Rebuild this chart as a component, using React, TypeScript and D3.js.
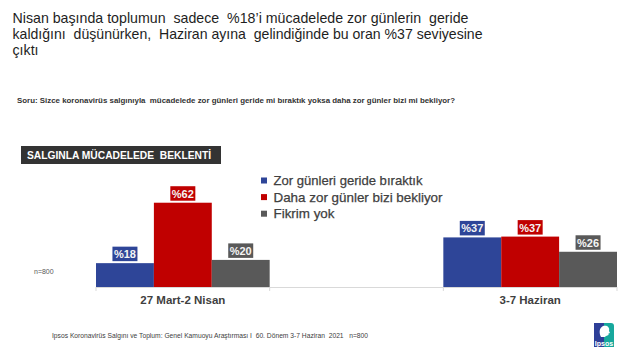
import React from "react";
import * as d3 from "d3";

const categories = ["27 Mart-2 Nisan", "", "3-7 Haziran"];
const seriesNames = ["Zor günleri geride bıraktık", "Daha zor günler bizi bekliyor", "Fikrim yok"];
const seriesColors = ["#2E4598", "#C00000", "#595959"];
const zorGeride = [17.6, null, 36.6];
const dahaZor = [62.2, null, 37.2];
const fikrimYok = [20.0, null, 26.0];
const seriesValues = [zorGeride, dahaZor, fikrimYok];

const titleLines = [
  "Nisan başında toplumun  sadece  %18’i mücadelede zor günlerin  geride",
  "kaldığını  düşünürken,  Haziran ayına  gelindiğinde bu oran %37 seviyesine",
  "çıktı",
];
const question = "Soru: Sizce koronavirüs salgınıyla  mücadelede zor günleri geride mi bıraktık yoksa daha zor günler bizi mi bekliyor?";
const boxTitle = "SALGINLA MÜCADELEDE  BEKLENTİ";
const footer = "Ipsos Koronavirüs Salgını ve Toplum: Genel Kamuoyu Araştırması I  60. Dönem 3-7 Haziran  2021   n=800";
const sampleNote = "n=800";

const FONT = "'Liberation Sans', Arial, sans-serif";

export default function App() {
  const W = 640, H = 360;
  const baseY = 287;
  const x = d3.scaleBand<string>().domain(categories.map((c, i) => String(i))).range([96, 617]).padding(0);
  const xs = d3.scaleBand<number>().domain([0, 1, 2]).range([0, x.bandwidth()]).padding(0);
  const y = d3.scaleLinear().domain([0, 100]).range([baseY, baseY - 135.5]);
  const tickXs = d3.range(categories.length + 1).map((i) => 96 + i * x.step());
  const legendWidths = [149, 169, 61];

  return (
    <svg width={W} height={H} viewBox={`0 0 ${W} ${H}`} style={{ position: "absolute", left: 0, top: 0, fontFamily: FONT }}>
      <rect width={W} height={H} fill="#fff" />
      {titleLines.map((t, i) => (
        <text key={i} x={12.5} y={22.5 + i * 16.4} fontSize={14.2} fill="#1e1e1e"
          textLength={i === 0 ? 456 : i === 1 ? 470 : undefined} lengthAdjust="spacingAndGlyphs" xmlSpace="preserve">{t}</text>
      ))}
      <text x={17} y={102.5} fontSize={7.4} fontWeight="bold" fill="#333" textLength={438} lengthAdjust="spacingAndGlyphs" xmlSpace="preserve">{question}</text>

      <rect x={21} y={146} width={200} height={18} fill="#333333" />
      <text x={27} y={159} fontSize={10.5} fontWeight="bold" fill="#fff" textLength={184} lengthAdjust="spacingAndGlyphs" xmlSpace="preserve">{boxTitle}</text>

      {seriesNames.map((s, i) => (
        <g key={s}>
          <rect x={261} y={177.5 + i * 16.6} width={6} height={6} fill={seriesColors[i]} />
          <text x={273.5} y={185 + i * 16.6} fontSize={13} fill="#404040" stroke="#404040" strokeWidth={0.25}
            textLength={legendWidths[i]} lengthAdjust="spacingAndGlyphs">{s}</text>
        </g>
      ))}

      <text x={34} y={274} fontSize={7} fill="#595959">{sampleNote}</text>

      {seriesValues.map((vals, si) =>
        vals.map((v, ci) => {
          if (v == null) return null;
          const bx = (x(String(ci)) as number) + (xs(si) as number);
          const bw = xs.bandwidth();
          const top = y(v);
          const cx = bx + bw / 2;
          const label = "%" + Math.round(v);
          return (
            <g key={`${si}-${ci}`}>
              <rect x={bx} y={top} width={bw} height={baseY - top} fill={seriesColors[si]} />
              <rect x={cx - 12.5} y={top - 16.5} width={25} height={14.5} fill={seriesColors[si]} />
              <text x={cx} y={top - 5} textAnchor="middle" fontSize={11} fontWeight="bold" fill="#f4f4f4">{label}</text>
            </g>
          );
        })
      )}

      <line x1={96} x2={617} y1={baseY + 0.5} y2={baseY + 0.5} stroke="#d9d9d9" strokeWidth={1} />
      {tickXs.map((tx, i) => (
        <line key={i} x1={tx} x2={tx} y1={baseY} y2={baseY + 4} stroke="#d9d9d9" strokeWidth={1} />
      ))}
      {categories.map((c, i) =>
        c ? (
          <text key={i} x={(x(String(i)) as number) + x.bandwidth() / 2} y={303.5} textAnchor="middle" fontSize={11.5}
            fontWeight="bold" fill="#404040">{c}</text>
        ) : null
      )}

      <text x={52} y={338} fontSize={6.3} fill="#404040" textLength={316} lengthAdjust="spacingAndGlyphs" xmlSpace="preserve">{footer}</text>

      <g>
        <rect x={594} y={323} width={10} height={24} fill="#2E3F98" />
        <path d="M604,323 H611 Q614,323 614,326 V347 H604 Z" fill="#17A89D" />
        <path d="M601,337 C599,333 599,328 603,326 C607,325 610,327 609,331 L610,333 L608.5,333.5 L608.5,335 C607,336 605,336 605,337 Z" fill="#fff" />
        <text x={604} y={345.5} textAnchor="middle" fontSize={7} fontWeight="bold" fill="#fff">Ipsos</text>
      </g>
    </svg>
  );
}
